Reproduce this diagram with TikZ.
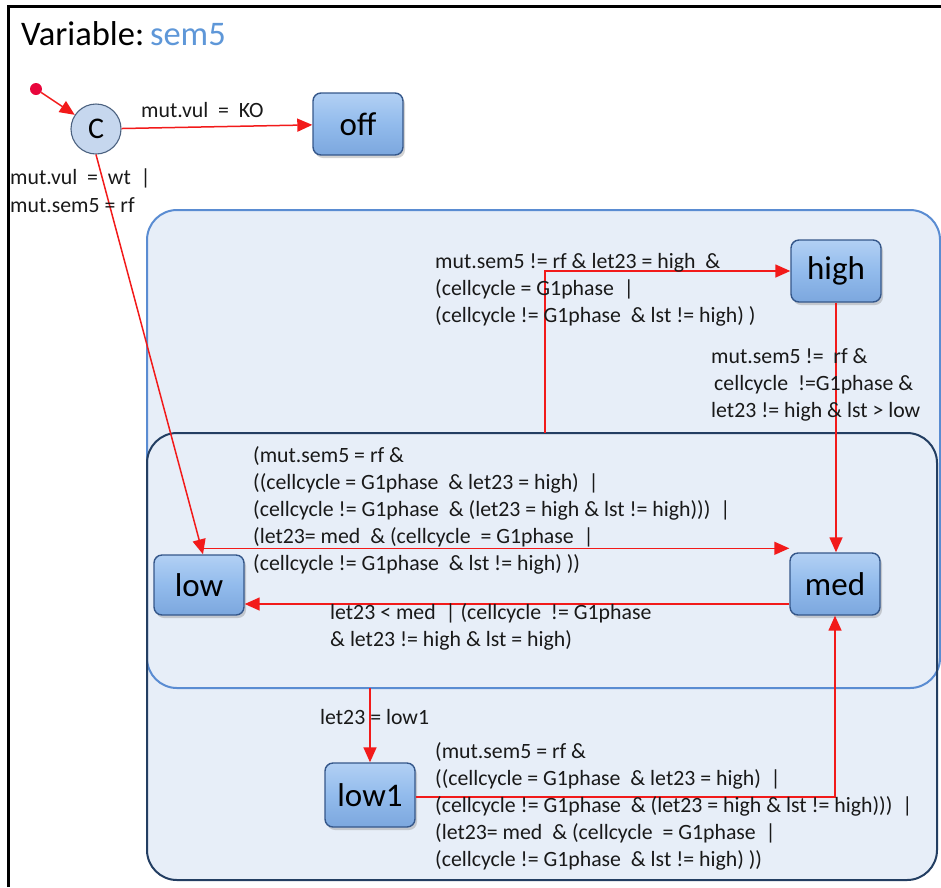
\documentclass[tikz,border=0pt]{standalone}
\usepackage{fontspec}
\setmainfont{Carlito}
\usetikzlibrary{arrows.meta,shadows,calc}
\definecolor{edgered}{HTML}{F21A1A}
\definecolor{semblue}{HTML}{5E97D8}
\definecolor{regionfill}{HTML}{E7EEF8}
\definecolor{regionA}{HTML}{5A8CD2}
\definecolor{regionB}{HTML}{233E62}
\definecolor{statetop}{HTML}{B2D0F4}
\definecolor{statemid}{HTML}{92BBEC}
\definecolor{statebot}{HTML}{7CA7DE}
\definecolor{stateline}{HTML}{35578A}
\definecolor{choicefill}{HTML}{C6D7EE}
\definecolor{choiceline}{HTML}{4C6280}
\definecolor{initdot}{HTML}{E8063C}
\begin{document}
\begin{tikzpicture}[x=1pt,y=-1pt,
  state/.style={rectangle, rounded corners=8pt, minimum width=90pt,
    minimum height=62pt, inner sep=0pt, draw=stateline, line width=1.4pt,
    top color=statetop, bottom color=statebot, middle color=statemid,
    drop shadow={shadow xshift=2pt, shadow yshift=-3pt, opacity=0.35},
    font=\fontsize{33}{33}\selectfont},
  choice/.style={circle, minimum size=50pt, inner sep=0pt, draw=choiceline,
    line width=1.1pt, fill=choicefill, font=\fontsize{30}{30}\selectfont},
  initial/.style={circle, minimum size=12pt, inner sep=0pt, fill=initdot},
  edge/.style={draw=edgered, line width=1.5pt,
    -{Triangle[length=15pt,width=13pt]}},
  lbl/.style={font=\fontsize{21.8}{27}\selectfont, align=left, inner sep=0pt,
    text=black!90},
  region/.style={rounded corners=30pt, line width=2pt}]
\useasboundingbox (0,0) rectangle (941,887);

% outer frame
\draw[line width=3pt] (8.5,887) -- (8.5,6.5) -- (941,6.5);

% title
\node[anchor=base west, inner sep=0pt, font=\fontsize{34.5}{34.5}\selectfont]
  (title) at (21,45) {Variable:\,\textcolor{semblue}{sem5}};

% composite regions
\fill[regionfill, rounded corners=30pt] (147,210) rectangle (940,688);
\fill[regionfill, rounded corners=30pt] (147,433) rectangle (937,880);
\draw[region, draw=regionA] (147,210) rectangle (940,688);
\draw[region, draw=regionB] (147,433) rectangle (937,880);
\coordinate (btop) at (545,433);
\coordinate (abot) at (370,688);

% states
\node[initial] (init) at (36,89) {};
\node[choice] (C) at (96,129) {C};
\node[state] (off) at (358,124) {off};
\node[state] (high) at (836,271) {high};
\node[state, minimum height=60pt] (low) at (199,585) {low};
\node[state] (med) at (835,584) {med};
\node[state, minimum height=64pt] (low1) at (370,795) {low1};

% transitions
\draw[edge] (init) -- (C);
\draw[edge] (C) -- (off);
\draw[edge] (C.south) -- ([xshift=4pt]low.north);
\draw[edge] (btop) |- (high.west);
\draw[edge] (high.south) -- (high.south |- med.north);
\draw[edge] ([yshift=6pt]low.north) -- ([yshift=6pt]low.north -| med.west);
\draw[edge] ([yshift=-20pt]med.west) -- ([yshift=-20pt]med.west -| low.east);
\draw[edge] (abot) -- (abot |- low1.north);
\draw[edge] ([yshift=-2pt]low1.east) -| (med.south);

% guards
\node[lbl, anchor=base west] (gKO) at (141,117) {mut.vul\ \ = \ KO};
\node[lbl, anchor=west] (gwt) at (10,191) {mut.vul\ \ = \ wt \ |\\[1pt]mut.sem5 = rf};
\node[lbl, anchor=west] (ghigh) at (435,290)
  {mut.sem5 != rf \& let23 = high \ \&\\
   (cellcycle = G1phase \ |\\
   (cellcycle != G1phase \ \& lst != high) )};
\node[lbl, anchor=west] (gmed) at (711,385)
  {mut.sem5 != \ rf \&\\
   \hspace{3pt}cellcycle \ !=G1phase \&\\
   let23 != high \& lst > low};
\node[lbl, anchor=west] (glowmed) at (253,510)
  {(mut.sem5 = rf \&\\
   ((cellcycle = G1phase \ \& let23 = high) \ |\\
   (cellcycle != G1phase \ \& (let23 = high \& lst != high))) \ |\\
   (let23= med \ \& (cellcycle \ = G1phase \ |\\
   (cellcycle != G1phase \ \& lst != high) ))};
\node[lbl, anchor=west] (gmedlow) at (330,627)
  {let23 < med \ | (cellcycle \ != G1phase\\
   \& let23 != high \& lst = high)};
\node[lbl, anchor=base west] (glow1) at (320,724) {let23 = low1};
\node[lbl, anchor=west] (glow1med) at (435,806)
  {(mut.sem5 = rf \&\\
   ((cellcycle = G1phase \ \& let23 = high) \ |\\
   (cellcycle != G1phase \ \& (let23 = high \& lst != high))) \ |\\
   (let23= med \ \& (cellcycle \ = G1phase \ |\\
   (cellcycle != G1phase \ \& lst != high) ))};
\end{tikzpicture}
\end{document}
